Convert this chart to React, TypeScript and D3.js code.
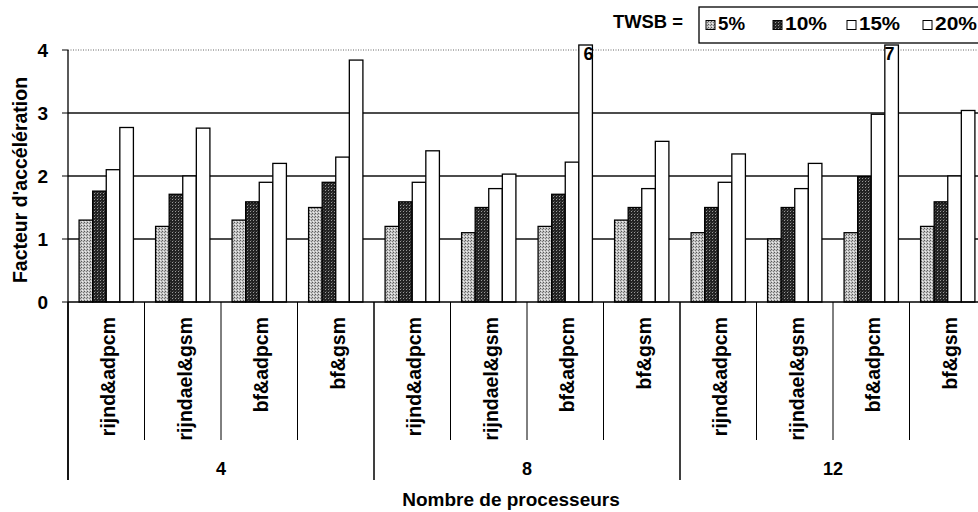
import React from "react";
import * as d3 from "d3";

const groups = ["4", "8", "12"];
const subCategories = ["rijnd&adpcm", "rijndael&gsm", "bf&adpcm", "bf&gsm"];
const seriesNames = ["5%", "10%", "15%", "20%"];
const s5 = [1.3, 1.2, 1.3, 1.5, 1.2, 1.1, 1.2, 1.3, 1.1, 1.0, 1.1, 1.2];
const s10 = [1.76, 1.71, 1.59, 1.9, 1.59, 1.5, 1.71, 1.5, 1.5, 1.5, 1.99, 1.59];
const s15 = [2.1, 2.0, 1.9, 2.3, 1.9, 1.8, 2.22, 1.8, 1.9, 1.8, 2.98, 2.0];
const s20 = [2.77, 2.76, 2.2, 3.84, 2.4, 2.03, 6, 2.55, 2.35, 2.2, 7, 3.04];
const yTicks = [0, 1, 2, 3, 4];

const W = 978;
const H = 512;
const FONT = "'Liberation Sans', Arial, sans-serif";

export default function App() {
  const series = [s5, s10, s15, s20];
  const fills = ["url(#pLight)", "url(#pDark)", "#fff", "#fff"];
  const categories = groups.flatMap((g) => subCategories.map((c) => `${g}|${c}`));
  const step = 76.5;
  const x0 = 68;
  const x = d3
    .scaleBand<string>()
    .domain(categories)
    .range([x0, x0 + step * categories.length])
    .paddingInner(0.29)
    .paddingOuter(0.145);
  const xs = d3
    .scaleBand<string>()
    .domain(seriesNames)
    .range([0, x.bandwidth()]);
  const y = d3.scaleLinear().domain([0, 4]).range([302, 50]);
  const yMax = 4;

  const groupEdges = groups.map((_, i) => x0 + i * step * subCategories.length);
  groupEdges.push(x0 + groups.length * step * subCategories.length);

  const legX = [706, 773, 847, 923];
  const legW = [27, 42, 41, 42];

  return (
    <svg
      width={W}
      height={H}
      style={{ position: "absolute", left: 0, top: 0, background: "#fff" }}
      fontFamily={FONT}
    >
      <defs>
        <pattern id="pLight" width="3" height="3" patternUnits="userSpaceOnUse">
          <rect width="3" height="3" fill="#c4c4c4" />
          <rect x="0" y="0" width="1" height="1" fill="#5a5a5a" />
          <rect x="2" y="1" width="1" height="1" fill="#7a7a7a" />
          <rect x="1" y="2" width="1" height="1" fill="#eeeeee" />
        </pattern>
        <pattern id="pDark" width="3" height="3" patternUnits="userSpaceOnUse">
          <rect width="3" height="3" fill="#222" />
          <rect x="1" y="1" width="1" height="1" fill="#999" />
          <rect x="2" y="0" width="1" height="1" fill="#4a4a4a" />
        </pattern>
      </defs>
      <rect width={W} height={H} fill="#fff" />

      {/* top dotted border */}
      <line x1={x0} x2={W} y1={y(4)} y2={y(4)} stroke="#666" strokeDasharray="1,1.5" />
      {/* grid lines */}
      {yTicks
        .filter((t) => t > 0 && t < 4)
        .map((t) => (
          <line key={t} x1={x0} x2={W} y1={y(t)} y2={y(t)} stroke="#111" strokeWidth={1.3} />
        ))}

      {/* bars */}
      {categories.map((c, ci) =>
        series.map((s, si) => {
          const v = s[ci];
          const bx = (x(c) as number) + (xs(seriesNames[si]) as number);
          const bw = xs.bandwidth();
          const top = v > yMax ? y(yMax) - 5 : y(v);
          return (
            <g key={`${c}-${si}`}>
              <rect
                x={bx}
                y={top}
                width={bw}
                height={y(0) - top}
                fill={fills[si]}
                stroke="#000"
                strokeWidth={1.3}
              />
              {v > yMax && (
                <text
                  x={bx + bw / 2 + (ci === 6 ? 3 : -2)}
                  y={top + 15}
                  textAnchor="middle"
                  fontSize={18}
                  fontWeight="bold"
                  fill="#000"
                >
                  {v}
                </text>
              )}
            </g>
          );
        })
      )}

      {/* y axis */}
      <line x1={x0} x2={x0} y1={y(4)} y2={480} stroke="#000" strokeWidth={1.3} />
      {yTicks.map((t) => (
        <g key={t}>
          <line x1={x0 - 6} x2={x0} y1={y(t)} y2={y(t)} stroke="#000" />
          <text
            x={48}
            y={y(t)}
            dy="0.36em"
            textAnchor="end"
            fontSize={19}
            fontWeight="bold"
          >
            {t}
          </text>
        </g>
      ))}
      <text
        transform={`translate(20,${180}) rotate(-90)`}
        textAnchor="middle"
        dy="0.36em"
        fontSize={19.5}
        fontWeight="bold"
      >
        Facteur d'accélération
      </text>

      {/* x axis */}
      <line x1={x0} x2={W} y1={y(0)} y2={y(0)} stroke="#000" strokeWidth={1.3} />
      {categories.map((c, ci) => {
        const left = x0 + ci * step;
        const isGroup = ci % subCategories.length === 0;
        return (
          <line
            key={`sep-${c}`}
            x1={left}
            x2={left}
            y1={y(0)}
            y2={isGroup ? 480 : 440}
            stroke="#000"
            strokeWidth={1}
          />
        );
      })}
      {groupEdges.map((e, i) => (
        <line key={`ge-${i}`} x1={e} x2={e} y1={y(0)} y2={480} stroke="#000" />
      ))}
      {categories.map((c) => {
        const cx = (x(c) as number) + x.bandwidth() / 2;
        const label = c.split("|")[1];
        return (
          <text
            key={`lbl-${c}`}
            transform={`translate(${cx + 2},317) rotate(-90)`}
            textAnchor="end"
            dy="0.36em"
            fontSize={19.5}
            fontWeight="bold"
          >
            {label}
          </text>
        );
      })}
      {groups.map((g, i) => (
        <text
          key={`g-${g}`}
          x={(groupEdges[i] + groupEdges[i + 1]) / 2}
          y={475}
          textAnchor="middle"
          fontSize={18}
          fontWeight="bold"
        >
          {g}
        </text>
      ))}
      <text x={511} y={506} textAnchor="middle" fontSize={19} fontWeight="bold">
        Nombre de processeurs
      </text>

      {/* legend */}
      <text x={613} y={28} fontSize={19} fontWeight="bold" textLength={70} lengthAdjust="spacingAndGlyphs">
        TWSB =
      </text>
      <rect x={699} y={7} width={300} height={36} fill="#fff" stroke="#000" strokeWidth={1.3} />
      {seriesNames.map((n, i) => {
        const lx = legX[i];
        return (
          <g key={`leg-${n}`}>
            <rect x={lx} y={20.5} width={9} height={9} fill={fills[i]} stroke="#000" />
            <text
              x={lx + 12}
              y={30}
              fontSize={19}
              fontWeight="bold"
              textLength={legW[i]}
              lengthAdjust="spacingAndGlyphs"
            >
              {n}
            </text>
          </g>
        );
      })}
    </svg>
  );
}
